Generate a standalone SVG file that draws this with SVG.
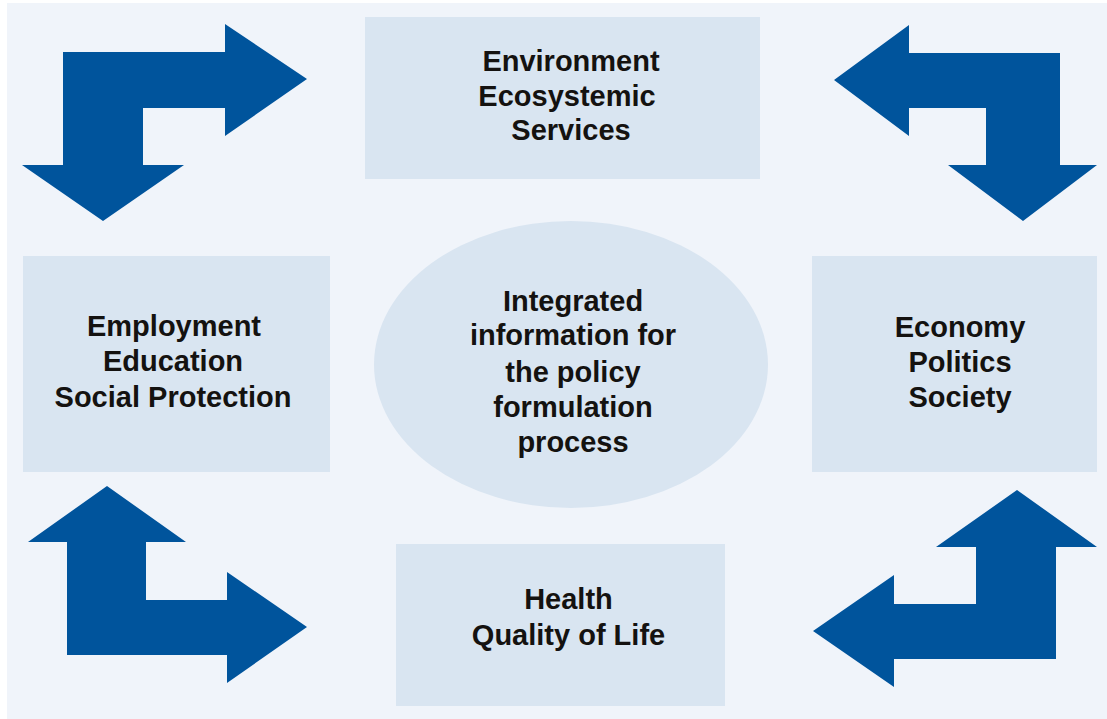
<svg xmlns="http://www.w3.org/2000/svg" width="1107" height="719" viewBox="0 0 1107 719">
<style>
.box{fill:#d9e5f1}
.arrow{fill:#00549c}
.t{font-family:"Liberation Sans",Arial,sans-serif;font-weight:bold;font-size:29px;fill:#141210;text-anchor:middle}
</style>
<rect x="0" y="0" width="1107" height="719" fill="#ffffff"/>
<rect x="7" y="3" width="1100" height="716" fill="#f0f4fa"/>
<g id="connectors">
<path class="arrow" d="M63,52 L225,52 L225,24 L307,79 L225,136 L225,108 L143,108 L143,165 L184,165 L103,221 L22,165 L63,165 Z"/>
<path class="arrow" d="M1060,53 L909,53 L909,25 L834,80 L909,136 L909,108 L986,108 L986,165 L948,165 L1023,221 L1097,165 L1060,165 Z"/>
<path class="arrow" d="M67,542 L28,542 L107,486 L186,542 L146,542 L146,600 L227,600 L227,572 L307,627 L227,683 L227,655 L67,655 Z"/>
<path class="arrow" d="M1056,547 L1097,547 L1017,490 L936,547 L976,547 L976,604 L894,604 L894,575 L813,631 L894,687 L894,659 L1056,659 Z"/>
</g>
<g id="node-environment">
<rect class="box" x="365" y="17" width="395" height="162"/>
<text class="t" x="571" y="71">Environment</text>
<text class="t" x="567" y="106">Ecosystemic</text>
<text class="t" x="571" y="140">Services</text>
</g>
<g id="node-employment">
<rect class="box" x="23" y="256" width="307" height="216"/>
<text class="t" x="174" y="336">Employment</text>
<text class="t" x="173" y="371">Education</text>
<text class="t" x="173" y="407">Social Protection</text>
</g>
<g id="node-economy">
<rect class="box" x="812" y="256" width="285" height="216"/>
<text class="t" x="960" y="337">Economy</text>
<text class="t" x="960" y="372">Politics</text>
<text class="t" x="960" y="407">Society</text>
</g>
<g id="node-health">
<rect class="box" x="396" y="544" width="329" height="162"/>
<text class="t" x="568.5" y="609">Health</text>
<text class="t" x="568.5" y="645">Quality of Life</text>
</g>
<g id="node-center">
<ellipse class="box" cx="571" cy="364.5" rx="197" ry="143.5"/>
<text class="t" x="573" y="311">Integrated</text>
<text class="t" x="573" y="345">information for</text>
<text class="t" x="573" y="382">the policy</text>
<text class="t" x="573" y="417">formulation</text>
<text class="t" x="573" y="452">process</text>
</g>
</svg>
